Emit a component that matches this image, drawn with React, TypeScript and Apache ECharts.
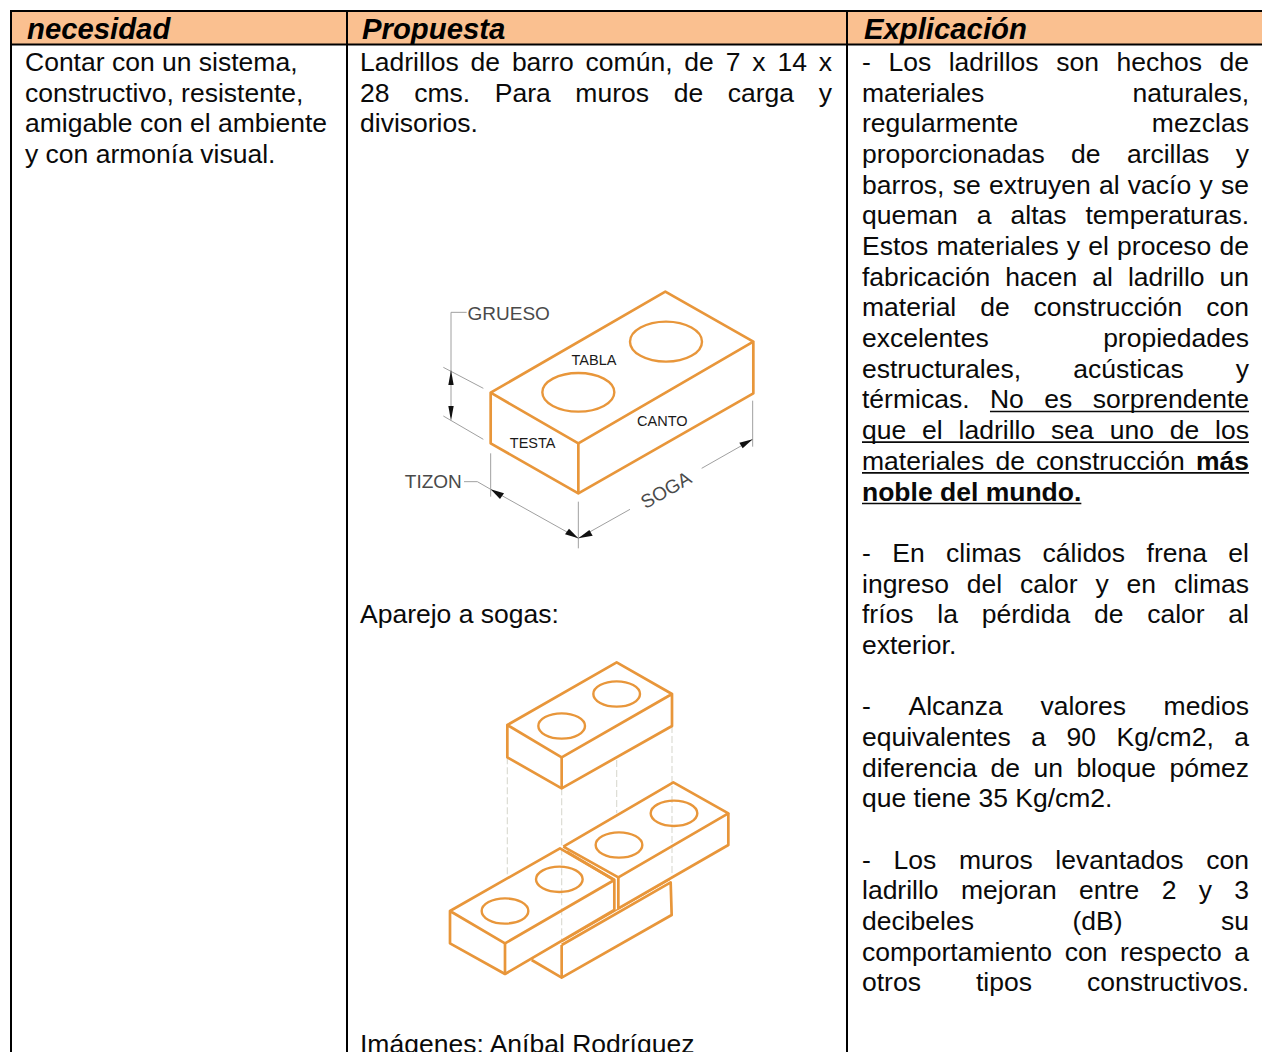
import React, { useEffect, useRef } from "react";
import * as echarts from "echarts";

const headers = ["necesidad", "Propuesta", "Explicación"];

const needLines = [
  "Contar con un sistema,",
  "constructivo, resistente,",
  "amigable con el ambiente",
  "y con armonía visual.",
];

// [line index, text, justified]
const proposalLines: [number, string, boolean][] = [
  [0, "Ladrillos de barro común, de 7 x 14 x", true],
  [1, "28 cms. Para muros de carga y", true],
  [2, "divisorios.", false],
  [18, "Aparejo a sogas:", false],
  [32, "Imágenes: Aníbal Rodríguez", false],
];

// word prefix "_" = underlined, "*" = bold and underlined; last flag = justified
const explanationLines: [number, string, boolean][] = [
  [0, "- Los ladrillos son hechos de", true],
  [1, "materiales naturales,", true],
  [2, "regularmente mezclas", true],
  [3, "proporcionadas de arcillas y", true],
  [4, "barros, se extruyen al vacío y se", true],
  [5, "queman a altas temperaturas.", true],
  [6, "Estos materiales y el proceso de", true],
  [7, "fabricación hacen al ladrillo un", true],
  [8, "material de construcción con", true],
  [9, "excelentes propiedades", true],
  [10, "estructurales, acústicas y", true],
  [11, "térmicas. _No _es _sorprendente", true],
  [12, "_que _el _ladrillo _sea _uno _de _los", true],
  [13, "_materiales _de _construcción *más", true],
  [14, "*noble *del *mundo.", false],
  [16, "- En climas cálidos frena el", true],
  [17, "ingreso del calor y en climas", true],
  [18, "fríos la pérdida de calor al", true],
  [19, "exterior.", false],
  [21, "- Alcanza valores medios", true],
  [22, "equivalentes a 90 Kg/cm2, a", true],
  [23, "diferencia de un bloque pómez", true],
  [24, "que tiene 35 Kg/cm2.", false],
  [26, "- Los muros levantados con", true],
  [27, "ladrillo mejoran entre 2 y 3", true],
  [28, "decibeles (dB) su", true],
  [29, "comportamiento con respecto a", true],
  [30, "otros tipos constructivos.", true],
];

const FONT = '"Liberation Sans", Arial, sans-serif';
const BODY = 26.5;
const PITCH = 30.68;
const BASE = 71;
const ORANGE = "#E8963A";
const GREY = "#a0a0a0";

function buildText(): any[] {
  const ctx = document.createElement("canvas").getContext("2d")!;
  const out: any[] = [];
  const fontOf = (b: boolean) => `${b ? "bold " : ""}${BODY}px ${FONT}`;
  const txt = (x: number, y: number, s: string, bold = false) => ({
    type: "text",
    x,
    y: y - 9,
    silent: true,
    style: {
      text: s,
      fill: "#0a0a0a",
      font: fontOf(bold),
      align: "left",
      verticalAlign: "middle",
    },
  });
  const place = (left: number, right: number, rows: [number, string, boolean][]) => {
    for (const [row, raw, just] of rows) {
      const y = BASE + PITCH * row;
      const words = raw.split(" ").map((w) => {
        const bold = w[0] === "*";
        const under = bold || w[0] === "_";
        const t = under ? w.slice(1) : w;
        ctx.font = fontOf(bold);
        return { t, bold, under, w: ctx.measureText(t).width };
      });
      ctx.font = fontOf(false);
      const plain = ctx.measureText(" ").width;
      const total = words.reduce((a, b) => a + b.w, 0);
      const gap =
        just && words.length > 1 ? (right - left - total) / (words.length - 1) : plain;
      let x = left;
      let uStart: number | null = null;
      let uEnd = 0;
      const mixed = words.some((w) => w.bold || w.under);
      if (!just && !mixed) {
        out.push(txt(left, y, raw));
        continue;
      }
      for (const w of words) {
        out.push(txt(x, y, w.t, w.bold));
        if (w.under) {
          if (uStart === null) uStart = x;
          uEnd = x + w.w;
        }
        x += w.w + gap;
      }
      if (uStart !== null) {
        out.push({
          type: "line",
          silent: true,
          shape: { x1: uStart, y1: y + 3, x2: uEnd, y2: y + 3 },
          style: { stroke: "#0a0a0a", lineWidth: 1.6 },
        });
      }
    }
  };
  place(25, 332, needLines.map((s, i) => [i, s, false] as [number, string, boolean]));
  place(360, 832, proposalLines);
  place(862, 1249, explanationLines);
  return out;
}

function buildTable(): any[] {
  const line = (x1: number, y1: number, x2: number, y2: number) => ({
    type: "line",
    silent: true,
    shape: { x1, y1, x2, y2 },
    style: { stroke: "#000", lineWidth: 2 },
  });
  const heads = [27, 362, 864];
  return [
    {
      type: "rect",
      silent: true,
      shape: { x: 11, y: 11, width: 1251, height: 33 },
      style: { fill: "#FAC090" },
    },
    line(10, 11, 1262, 11),
    line(10, 44.5, 1262, 44.5),
    line(11, 10, 11, 1052),
    line(347, 10, 347, 1052),
    line(847, 10, 847, 1052),
    ...headers.map((h, i) => ({
      type: "text",
      x: heads[i],
      y: 28,
      silent: true,
      style: {
        text: h,
        fill: "#000",
        font: `italic bold 29.3px ${FONT}`,
        align: "left",
        verticalAlign: "middle",
      },
    })),
  ];
}

function buildDrawings(): any[] {
  const out: any[] = [];
  const mapper = (ox: number, oy: number) => (p: number[]) => [ox + p[0] / 3, oy + p[1] / 3];
  const poly = (m: any, pts: number[][], stroke = ORANGE, lineWidth = 2.7, dash?: number[]) =>
    out.push({
      type: "polyline",
      silent: true,
      shape: { points: pts.map(m) },
      style: { stroke, lineWidth, fill: "none", lineDash: dash, lineJoin: "round" },
    });
  const ell = (m: any, cx: number, cy: number, rx: number, ry: number, lw = 2.4) => {
    const [x, y] = m([cx, cy]);
    out.push({
      type: "ellipse",
      silent: true,
      shape: { cx: x, cy: y, rx: rx / 3, ry: ry / 3 },
      style: { stroke: ORANGE, lineWidth: lw, fill: "none" },
    });
  };
  const arrow = (m: any, pts: number[][]) =>
    out.push({
      type: "polygon",
      silent: true,
      shape: { points: pts.map(m) },
      style: { fill: "#111" },
    });
  const label = (m: any, cx: number, cy: number, s: string, size: number, fill: string, rot = 0) => {
    const [x, y] = m([cx, cy]);
    out.push({
      type: "text",
      x,
      y,
      rotation: rot,
      silent: true,
      style: {
        text: s,
        fill,
        font: `${size}px ${FONT}`,
        align: "center",
        verticalAlign: "middle",
      },
    });
  };

  // labelled brick
  const a = mapper(390, 280);
  const g = (pts: number[][]) => poly(a, pts, GREY, 1);
  g([[230, 97], [183, 97], [183, 410]]);
  g([[160, 262], [280, 325]]);
  g([[160, 408], [280, 478]]);
  g([[222, 605], [262, 605], [302, 628], [565, 775]]);
  g([[302, 520], [302, 650]]);
  g([[565, 665], [565, 805]]);
  g([[565, 775], [720, 688]]);
  g([[935, 565], [1088, 478]]);
  g([[1088, 362], [1088, 500]]);
  arrow(a, [[183, 270], [175, 315], [191, 315]]);
  arrow(a, [[183, 422], [175, 378], [191, 378]]);
  arrow(a, [[302, 628], [342, 640], [330, 657]]);
  arrow(a, [[565, 775], [525, 763], [537, 746]]);
  arrow(a, [[565, 775], [598, 750], [608, 767]]);
  arrow(a, [[1088, 478], [1048, 488], [1058, 505]]);
  poly(a, [[302, 338], [826, 35], [1090, 185], [565, 490], [302, 338], [302, 490], [565, 640], [1090, 340], [1090, 185]]);
  poly(a, [[565, 490], [565, 640]]);
  ell(a, 565, 337, 108, 58);
  ell(a, 828, 185, 108, 60);
  label(a, 356, 100, "GRUESO", 19, "#4a4a4a");
  label(a, 130, 605, "TIZON", 19, "#4a4a4a");
  label(a, 828, 630, "SOGA", 19, "#4a4a4a", Math.PI / 6);
  label(a, 612, 240, "TABLA", 14.5, "#1a1a1a");
  label(a, 428, 490, "TESTA", 14.5, "#1a1a1a");
  label(a, 817, 422, "CANTO", 14.5, "#1a1a1a");

  // bond drawing
  const b = mapper(430, 650);
  const dash = (pts: number[][]) => poly(b, pts, "#dcdcd4", 1.2, [7, 3]);
  dash([[232, 322], [232, 680]]);
  dash([[395, 415], [395, 870]]);
  dash([[560, 330], [560, 490]]);
  dash([[726, 228], [726, 680]]);
  const brick = (top: number[][], low: number[][]) => poly(b, top.concat(low));
  // upper brick
  brick([[232, 225], [560, 37], [726, 132], [395, 322], [232, 225]], [[232, 322], [395, 415], [726, 228], [726, 132]]);
  poly(b, [[395, 322], [395, 415]]);
  ell(b, 395, 228, 70, 38);
  ell(b, 560, 132, 70, 38);
  // right brick
  brick([[400, 590], [730, 397], [895, 490], [565, 682], [400, 590]], []);
  poly(b, [[565, 682], [565, 775], [895, 585], [895, 490]]);
  poly(b, [[410, 605], [553, 690]]);
  ell(b, 567, 585, 70, 38);
  ell(b, 732, 490, 70, 38);
  // left brick
  brick([[60, 783], [390, 595], [553, 690], [225, 880], [60, 783]], [[60, 880], [225, 972], [553, 780], [553, 690]]);
  poly(b, [[225, 880], [225, 972]]);
  ell(b, 225, 783, 70, 38);
  ell(b, 388, 688, 70, 38);
  // lower brick
  poly(b, [[395, 885], [722, 697], [725, 795], [395, 983], [305, 930]]);
  poly(b, [[395, 875], [720, 688]], ORANGE, 1.6);
  poly(b, [[395, 885], [395, 983]]);
  return out;
}

export default function App() {
  const ref = useRef<HTMLDivElement>(null);
  useEffect(() => {
    document.body.style.margin = "0";
    const chart = echarts.init(ref.current!, undefined, { renderer: "svg" });
    chart.setOption({
      animation: false,
      backgroundColor: "#ffffff",
      graphic: { elements: [...buildTable(), ...buildDrawings(), ...buildText()] },
    });
    return () => chart.dispose();
  }, []);
  return <div ref={ref} style={{ width: 1262, height: 1052, overflow: "hidden" }} />;
}
